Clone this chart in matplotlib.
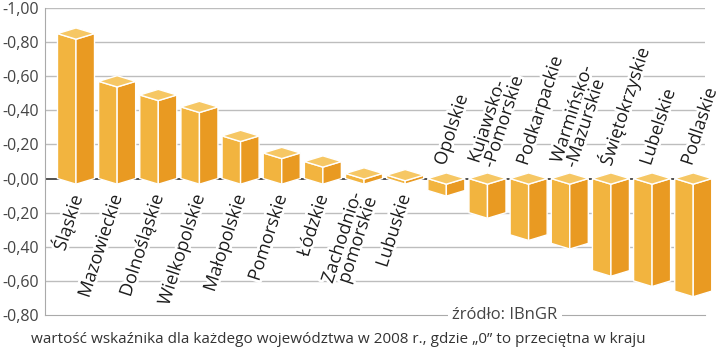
import matplotlib
matplotlib.use("Agg")
import matplotlib.pyplot as plt
import matplotlib.patheffects as pe

plt.rcParams['font.family'] = ['Open Sans', 'DejaVu Sans']

regions = ["Śląskie", "Mazowieckie", "Dolnośląskie", "Wielkopolskie", "Małopolskie",
           "Pomorskie", "Łódzkie", "Zachodnio-\npomorskie", "Lubuskie", "Opolskie",
           "Kujawsko-\n-Pomorskie", "Podkarpackie", "Warmińsko-\n-Mazurskie",
           "Świętokrzyskie", "Lubelskie", "Podlaskie"]
values = [0.85, 0.57, 0.49, 0.42, 0.25, 0.15, 0.10, 0.03, 0.02,
          -0.07, -0.20, -0.33, -0.38, -0.54, -0.60, -0.66]

ytick_vals = [1.0, 0.8, 0.6, 0.4, 0.2, 0.0, -0.2, -0.4, -0.6, -0.8]
ytick_labels = ["-1,00", "-0,80", "-0,60", "-0,40", "-0,20", "-0,00",
                "-0,20", "-0,40", "-0,60", "-0,80"]

note = "wartość wskaźnika dla każdego województwa w 2008 r., gdzie „0” to przeciętna w kraju"
source = "źródło: IBnGR"

c_front = "#F2B43F"
c_side = "#E99A22"
c_top = "#F6C764"

fig = plt.figure(figsize=(7.2, 3.56), dpi=100)
ax = fig.add_axes([45/720, 41/356, 660/720, 307/356])

ax.set_xlim(-0.753, 15.286)
ax.set_ylim(-0.8, 1.0)

# grid
for v in ytick_vals:
    if v in (0.0, -0.8):
        continue
    ax.axhline(v, color="#bdbdbd", lw=1.0, zorder=1)
ax.axhline(0, color="#333333", lw=1.2, zorder=2)

w = 0.45   # half width of a box
d = 0.033  # depth of the top diamond

def box(x, v):
    top, bot = (v, 0) if v >= 0 else (0, v)
    kw = dict(edgecolor="white", linewidth=1.0, zorder=3, clip_on=False)
    ax.fill([x - w, x, x, x - w], [top, top - d, bot - d, bot], color=c_front, **kw)
    ax.fill([x, x + w, x + w, x], [top - d, top, bot, bot - d], color=c_side, **kw)
    ax.fill([x - w, x, x + w, x], [top, top + d, top, top - d], color=c_top, **kw)

halo = [pe.withStroke(linewidth=4, foreground="white")]
lab = dict(rotation=72, rotation_mode="anchor", fontsize=13, fontweight="medium",
           color="#1e1e1e", linespacing=0.82, zorder=4, path_effects=halo)
for i, (name, v) in enumerate(zip(regions, values)):
    box(i, v)
    if v >= 0:
        ax.text(i, -0.1, name, ha="right", va="center", **lab)
    else:
        ax.text(i - 0.15, 0.08, name, ha="left", va="center", **lab)

ax.set_yticks(ytick_vals)
ax.set_yticklabels(ytick_labels)
ax.set_xticks([])
ax.tick_params(axis="y", length=0, pad=4, labelsize=11.5, labelcolor="#444444")

for s in ("top", "right"):
    ax.spines[s].set_visible(False)
ax.spines["left"].set_color("#aaaaaa")
ax.spines["bottom"].set_color("#aaaaaa")

ax.text(0.697, 0, source, transform=ax.transAxes, ha="center", va="center",
        fontsize=12, color="#444444", zorder=5,
        bbox=dict(facecolor="white", edgecolor="none", pad=3))

fig.text(31/720, 13/356, note, ha="left", va="baseline", fontsize=11, color="#333333")

fig.savefig("out.png", dpi=100)
